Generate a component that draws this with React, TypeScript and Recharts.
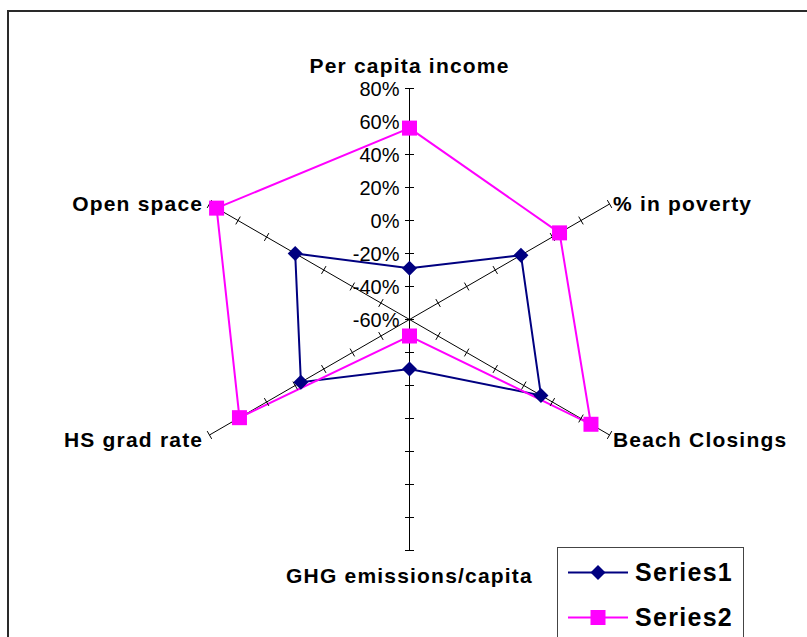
import React from 'react';
import { RadarChart, Radar, PolarGrid, PolarAngleAxis, PolarRadiusAxis, Legend } from 'recharts';

const categories = ['Per capita income', '% in poverty', 'Beach Closings', 'GHG emissions/capita', 'HS grad rate', 'Open space'];
const series1 = [-29, 18, 32, -30, 16, 20];
const series2 = [56, 45, 67, -50, 59, 75];
const radiusTicks = [-60, -40, -20, 0, 20, 40, 60, 80];
const seriesNames = ['Series1', 'Series2'];
const seriesColors = ['#000080', '#FF00FF'];

const data = categories.map((c, i) => ({ category: c, s1: series1[i], s2: series2[i] }));

const CX = 409.5;
const CY = 319.5;
const R = 231;
const SPOKES = [90, 30, -30, -90, -150, 150];
const FONT = '"Liberation Sans", Arial, sans-serif';

const RadiusTick = (props: any) => {
  const { x, y, payload } = props;
  const r = Math.hypot(x - CX, y - CY);
  const marks: any[] = [];
  SPOKES.forEach((a, i) => {
    if (r < 1 && i !== 0) return;
    const rad = (a * Math.PI) / 180;
    const px = CX + r * Math.cos(rad);
    const py = CY - r * Math.sin(rad);
    // perpendicular direction
    const ux = -Math.sin(rad);
    const uy = -Math.cos(rad);
    const h = 4.5;
    marks.push(
      <line key={i} x1={px - ux * h} y1={py - uy * h} x2={px + ux * h} y2={py + uy * h} stroke="#000" strokeWidth={1} />
    );
  });
  return (
    <g>
      {marks}
      <text x={x - 10} y={y} dy={7} textAnchor="end" fontFamily={FONT} fontSize={20} fill="#000">
        {`${payload.value}%`}
      </text>
    </g>
  );
};

const AngleTick = (props: any) => {
  const { x, y, payload, textAnchor } = props;
  let dx = 0;
  let dy = 0;
  if (textAnchor === 'middle') {
    dy = y < CY ? -7.5 : 24.8;
  } else {
    dy = y < CY ? 10.5 : 7.7;
    dx = textAnchor === 'start' ? -3.5 : 0.7;
  }
  return (
    <text x={x + dx} y={y + dy} textAnchor={textAnchor} fontFamily={FONT} fontWeight="bold" fontSize={21} letterSpacing={1.2} fill="#000">
      {payload.value}
    </text>
  );
};

const Diamond = (props: any) => {
  const { cx, cy, fill } = props;
  if (cx == null || cy == null) return null;
  const s = 7.5;
  return <polygon points={`${cx},${cy - s} ${cx + s},${cy} ${cx},${cy + s} ${cx - s},${cy}`} fill={fill} />;
};

const Square = (props: any) => {
  const { cx, cy, fill } = props;
  if (cx == null || cy == null) return null;
  const s = 7.5;
  return <rect x={cx - s} y={cy - s} width={2 * s} height={2 * s} fill={fill} />;
};

const LegendContent = (props: any) => {
  const payload = props.payload || [];
  return (
    <div style={{ width: 187, height: 110, border: '1px solid #444', background: '#fff', boxSizing: 'border-box' }}>
      <svg width={185} height={108}>
        {payload.map((entry: any, i: number) => {
          const ly = 24.5 + i * 45;
          const color = seriesColors[i];
          return (
            <g key={i}>
              <line x1={10} y1={ly} x2={70} y2={ly} stroke={color} strokeWidth={1.8} />
              {i === 0 ? (
                <polygon points={`40,${ly - 7.5} 47.5,${ly} 40,${ly + 7.5} 32.5,${ly}`} fill={color} />
              ) : (
                <rect x={32.5} y={ly - 7.5} width={15} height={15} fill={color} />
              )}
              <text x={77} y={ly + 8} fontFamily={FONT} fontWeight="bold" fontSize={25} letterSpacing={1.3} fill="#000">
                {entry.value}
              </text>
            </g>
          );
        })}
      </svg>
    </div>
  );
};

export default function App() {
  return (
    <div style={{ position: 'absolute', left: 0, top: 0, width: 807, height: 637, overflow: 'hidden', background: '#fff' }}>
      <div style={{ position: 'absolute', left: 7, top: 10, width: 900, height: 800, border: '2px solid #2a2a2a' }} />
      <div style={{ position: 'absolute', left: 0, top: 0 }}>
        <RadarChart
          width={807}
          height={637}
          data={data}
          cx={CX}
          cy={CY}
          outerRadius={R}
          margin={{ top: 0, right: 0, bottom: 0, left: 0 }}
        >
          <PolarGrid polarRadius={[]} stroke="#000" strokeWidth={1} gridType="polygon" />
          <PolarAngleAxis dataKey="category" tick={AngleTick} tickLine={false} axisLine={false} tickSize={8} />
          <PolarRadiusAxis
            angle={90}
            type="number"
            domain={[-60, 80]}
            ticks={radiusTicks as any}
            tickCount={8}
            allowDataOverflow
            axisLine={false}
            tickLine={false}
            tick={RadiusTick}
          />
          <Radar
            name={seriesNames[0]}
            dataKey="s1"
            stroke={seriesColors[0]}
            strokeWidth={2}
            fill="none"
            fillOpacity={0}
            dot={(p: any) => <Diamond key={`d${p.index}`} {...p} fill={seriesColors[0]} />}
            isAnimationActive={false}
          />
          <Radar
            name={seriesNames[1]}
            dataKey="s2"
            stroke={seriesColors[1]}
            strokeWidth={2}
            fill="none"
            fillOpacity={0}
            dot={(p: any) => <Square key={`s${p.index}`} {...p} fill={seriesColors[1]} />}
            isAnimationActive={false}
          />
          <Legend
            content={LegendContent}
            wrapperStyle={{ position: 'absolute', left: 557, top: 547, width: 187, height: 110 }}
          />
        </RadarChart>
      </div>
    </div>
  );
}
